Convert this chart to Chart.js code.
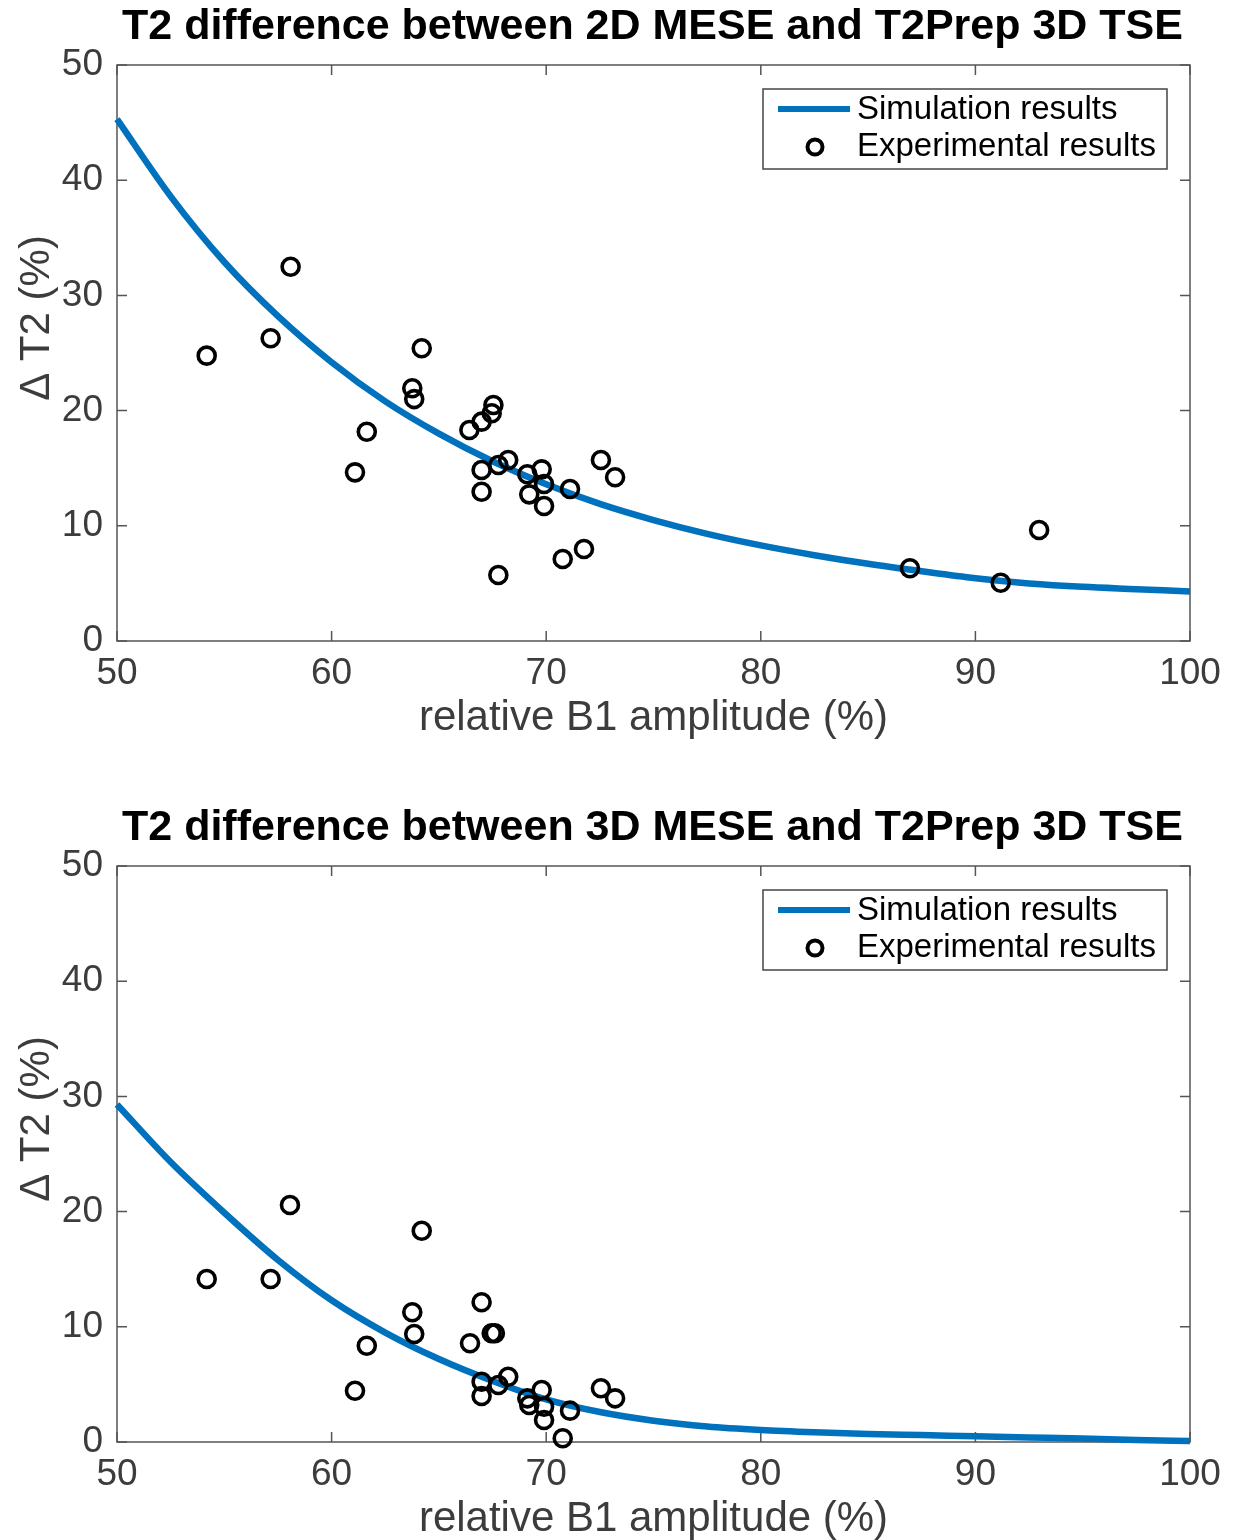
<!DOCTYPE html>
<html><head><meta charset="utf-8">
<script src="https://cdn.jsdelivr.net/npm/chart.js@4/dist/chart.umd.min.js"></script>
<style>
html,body{margin:0;padding:0;overflow:hidden;background:#fff;width:1243px;height:1540px;}
.wrap{position:absolute;left:0;width:1243px;height:770px;}
</style></head><body>
<div class="wrap" style="top:0"><canvas id="c1" width="1243" height="770"></canvas></div>
<div class="wrap" style="top:801px"><canvas id="c2" width="1243" height="770"></canvas></div>
<script>
const FONT = "'Liberation Sans', Arial, Helvetica, sans-serif";

const chartTitles = ['T2 difference between 2D MESE and T2Prep 3D TSE', 'T2 difference between 3D MESE and T2Prep 3D TSE'];
const xAxisTitle = 'relative B1 amplitude (%)';
const yAxisTitle = 'Δ T2 (%)';
const legendLabels = ['Simulation results', 'Experimental results'];

// simulation curves
const simB1 = [50,52.5,55,57.5,60,62.5,65,67.5,70,72.5,75,77.5,80,82.5,85,87.5,90,92.5,95,97.5,100];
const simTop = [45.3,38.6,32.9,28.2,24.2,20.8,18.0,15.6,13.6,11.9,10.5,9.3,8.3,7.45,6.7,6.05,5.45,5.0,4.7,4.5,4.3];
const simBottom = [29.3,24.3,19.9,15.8,12.3,9.5,7.2,5.3,3.7,2.6,1.85,1.35,1.05,0.85,0.7,0.6,0.5,0.4,0.3,0.18,0.08];

// experimental points
const expB1Top = [54.18,57.16,58.09,61.09,61.64,63.76,63.85,64.20,66.42,66.99,66.99,66.99,67.46,67.54,67.77,67.77,68.23,69.12,69.21,69.79,69.90,69.90,70.77,71.11,71.76,72.55,73.21,86.95,91.18,92.97];
const expT2Top = [24.77,26.28,32.49,14.64,18.17,21.94,21.00,25.41,18.32,19.04,14.84,12.96,19.77,20.49,15.28,5.73,15.71,14.47,12.73,14.90,13.63,11.72,7.12,13.19,7.99,15.71,14.21,6.31,5.06,9.64];
const expB1Bottom = [54.18,57.16,58.06,61.09,61.64,63.76,63.85,64.20,66.45,66.99,66.99,66.99,67.46,67.61,67.77,68.23,69.12,69.21,69.79,69.90,69.90,70.77,71.11,72.55,73.21];
const expT2Bottom = [14.15,14.15,20.57,4.45,8.36,11.26,9.38,18.34,8.57,12.13,5.23,3.99,9.44,9.44,4.95,5.67,3.79,3.21,4.51,3.06,1.91,0.32,2.72,4.66,3.79];

const xMin = 50, xMax = 100, xStep = 10;
const yMin = 0, yMax = 50, yStep = 10;

const BLUE = '#0072BD';
const AXIS = '#555555';
const TEXT = '#3c3c3c';

function pts(xs, ys){ return xs.map((x,i)=>({x:x, y:ys[i]})); }

const framePlugin = {
  id: 'frame',
  beforeDatasetsDraw(chart){
    const {ctx, chartArea:a, scales:{x, y}} = chart;
    ctx.save();
    ctx.strokeStyle = AXIS;
    ctx.lineWidth = 1.5;
    ctx.strokeRect(a.left, a.top, a.right - a.left, a.bottom - a.top);
    const L = 10;
    ctx.beginPath();
    x.ticks.forEach(t => {
      const p = x.getPixelForValue(t.value);
      ctx.moveTo(p, a.bottom); ctx.lineTo(p, a.bottom - L);
      ctx.moveTo(p, a.top); ctx.lineTo(p, a.top + L);
    });
    y.ticks.forEach(t => {
      const p = y.getPixelForValue(t.value);
      ctx.moveTo(a.left, p); ctx.lineTo(a.left + L, p);
      ctx.moveTo(a.right, p); ctx.lineTo(a.right - L, p);
    });
    ctx.stroke();
    ctx.restore();
  },
  afterDraw(chart){
    const {ctx, chartArea:a} = chart;
    const ds = chart.data.datasets;
    const w = 404, h = 80;
    const left = a.right - 23 - w, top = a.top + 24;
    ctx.save();
    ctx.fillStyle = '#fff';
    ctx.fillRect(left, top, w, h);
    ctx.strokeStyle = '#444';
    ctx.lineWidth = 1.5;
    ctx.strokeRect(left, top, w, h);
    const r1 = top + 20, r2 = top + 58;
    // line sample
    ctx.strokeStyle = ds[0].borderColor;
    ctx.lineWidth = 6;
    ctx.beginPath(); ctx.moveTo(left + 15, r1); ctx.lineTo(left + 87, r1); ctx.stroke();
    // marker sample
    ctx.strokeStyle = ds[1].borderColor;
    ctx.lineWidth = 4;
    ctx.beginPath(); ctx.arc(left + 52, r2, 7.5, 0, Math.PI*2); ctx.stroke();
    ctx.fillStyle = '#000';
    ctx.font = '33px ' + FONT;
    ctx.textBaseline = 'middle';
    ctx.textAlign = 'left';
    ctx.fillText(ds[0].label, left + 94, r1 + 1);
    ctx.fillText(ds[1].label, left + 94, r2);
    ctx.restore();
  }
};

function makeChart(id, title, sim, ex, ey){
  return new Chart(document.getElementById(id), {
    type: 'scatter',
    data: {
      datasets: [
        { type:'line', label: legendLabels[0], data: pts(simB1, sim), borderColor: BLUE, borderWidth: 6.5,
          pointRadius: 0, fill: false, cubicInterpolationMode: 'monotone', order: 2, clip: false },
        { type:'scatter', label: legendLabels[1], data: pts(ex, ey), borderColor: '#000', backgroundColor: 'rgba(0,0,0,0)',
          borderWidth: 3.6, pointRadius: 8.5, pointHoverRadius: 8.5, order: 1, clip: false }
      ]
    },
    options: {
      responsive: false,
      animation: false,
      events: [],
      layout: { padding: { left: 62, right: 0, top: 0, bottom: 0 } },
      plugins: {
        legend: { display: false },
        tooltip: { enabled: false },
        title: { display: true, text: title, color: '#000',
          font: { family: FONT, size: 43, weight: 'bold', lineHeight: 1.2 },
          padding: { top: 1, bottom: 12.4 } }
      },
      scales: {
        x: { type: 'linear', min: xMin, max: xMax,
          ticks: { stepSize: xStep, padding: 11, color: TEXT, maxRotation: 0, autoSkip: false,
            font: { family: FONT, size: 37, lineHeight: 1.2 } },
          grid: { display: false, drawTicks: false, tickLength: 0 },
          border: { display: false },
          title: { display: true, text: xAxisTitle, color: TEXT,
            font: { family: FONT, size: 42, lineHeight: 1.2 }, padding: { top: 0, bottom: 26.8 } },
          afterFit(s){ s.height = 129; s.paddingRight = 53; } },
        y: { type: 'linear', min: yMin, max: yMax,
          ticks: { stepSize: yStep, padding: 14, color: TEXT, autoSkip: false,
            font: { family: FONT, size: 37, lineHeight: 1.2 } },
          grid: { display: false, drawTicks: false, tickLength: 0 },
          border: { display: false },
          title: { display: true, text: '\u00a0\u00a0\u00a0\u00a0\u00a0\u00a0' + yAxisTitle, color: TEXT,
            font: { family: FONT, size: 42, lineHeight: 1.2 }, padding: { top: -49.7, bottom: 0 } },
          afterFit(s){ s.width = 55; } }
      }
    },
    plugins: [framePlugin]
  });
}

makeChart('c1', chartTitles[0], simTop, expB1Top, expT2Top);
makeChart('c2', chartTitles[1], simBottom, expB1Bottom, expT2Bottom);
</script>
</body></html>
